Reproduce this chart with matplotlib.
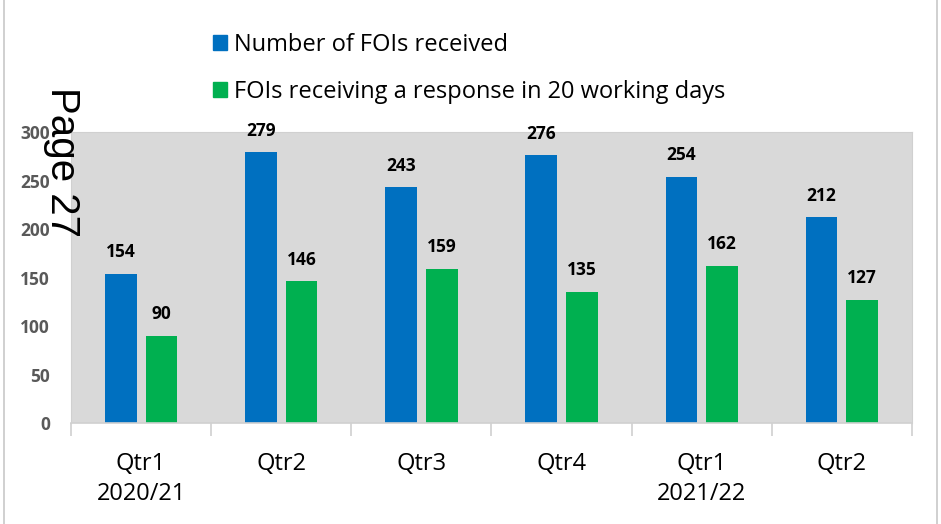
import numpy as np
import matplotlib.pyplot as plt
from matplotlib.lines import Line2D
from matplotlib.patches import Patch

# FOI statistics by quarter
quarters = ["Qtr1\n2020/21", "Qtr2", "Qtr3", "Qtr4", "Qtr1\n2021/22", "Qtr2"]
received = [154, 279, 243, 276, 254, 212]
on_time = [90, 146, 159, 135, 162, 127]
series_names = ["Number of FOIs received", "FOIs receiving a response in 20 working days"]
BLUE = "#0070C0"
GREEN = "#00B050"

plt.rcParams['font.family'] = ['Open Sans', 'DejaVu Sans']

fig = plt.figure(figsize=(9.41, 5.24), dpi=100)
W, H = 941, 524
ax = fig.add_axes([71 / W, 1 - 423 / H, (912 - 71) / W, (423 - 132) / H])
ax.set_facecolor("#D9D9D9")

x = np.arange(len(quarters))
bw = 0.225
b1 = ax.bar(x - 0.145, received, bw, color=BLUE)
b2 = ax.bar(x + 0.145, on_time, bw, color=GREEN)
for bars, vals in ((b1, received), (b2, on_time)):
    for r, v in zip(bars, vals):
        ax.text(r.get_x() + r.get_width() / 2, v + 13, str(v), ha="center", va="bottom",
                fontsize=12.5, fontweight="bold", color="black")

ax.set_xlim(-0.5, len(quarters) - 0.5)
ax.set_ylim(0, 300)
ax.set_yticks(range(0, 301, 50))
ax.tick_params(axis="y", length=0, labelsize=12.5, labelcolor="#595959", pad=15)
for t in ax.get_yticklabels():
    t.set_fontweight("bold")
ax.set_xticks(x)
ax.set_xticklabels(quarters, fontsize=17, linespacing=1.35)
ax.tick_params(axis="x", length=0, pad=21)
ax.set_xticks(np.arange(-0.5, len(quarters), 1), minor=True)
ax.tick_params(axis="x", which="minor", length=9, color="#D0D0D0", width=1.2)

for s in ["top", "right", "left"]:
    ax.spines[s].set_color("#D0D0D0")
ax.spines["bottom"].set_color("#D0D0D0")
ax.spines["bottom"].set_linewidth(1.2)

# legend
handles = [Patch(color=BLUE), Patch(color=GREEN)]
fig.legend(handles, series_names, loc="upper left", bbox_to_anchor=(192 / W, 1 - 12 / H),
           frameon=False, fontsize=17, handlelength=0.6, handleheight=0.6,
           handletextpad=0.3, labelspacing=0.95)

# page stamp and borders
fig.text(62 / W, 1 - 162 / H, "Page 27", rotation=-90, fontsize=29, ha="center", va="center",
         family=["Liberation Sans", "DejaVu Sans"])
fig.add_artist(Line2D([4 / W, 4 / W], [0, 1], color="#C8C8C8", lw=1.2))
fig.add_artist(Line2D([937 / W, 937 / W], [0, 1], color="#C8C8C8", lw=1.2))

fig.savefig("out.png", dpi=100)
